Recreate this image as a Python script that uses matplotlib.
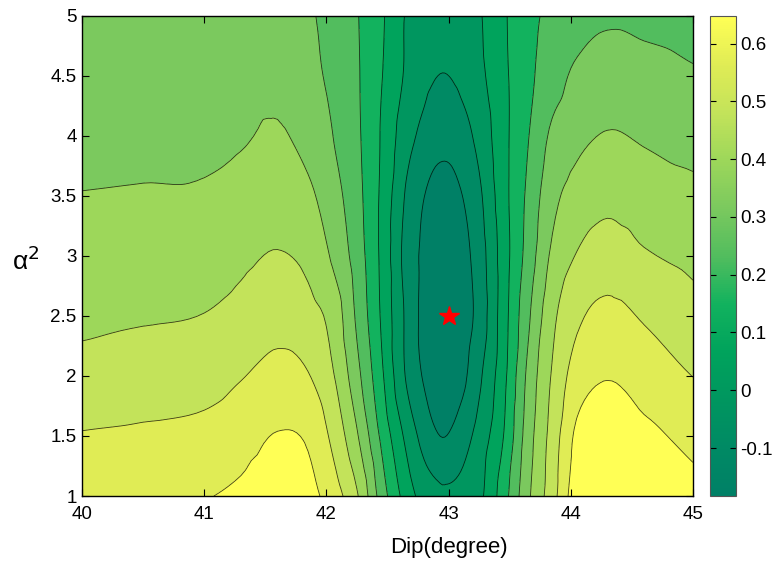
import numpy as np
import matplotlib
matplotlib.use("Agg")
from matplotlib import pyplot as plt
import matplotlib.tri as mtri
from matplotlib.colors import LinearSegmentedColormap, Normalize
from matplotlib.cm import ScalarMappable
from matplotlib.ticker import FormatStrFormatter

plt.rcParams['font.family'] = ['Liberation Sans', 'DejaVu Sans']

# grid
dip = [40, 40.5, 41, 41.3, 41.6, 41.85, 42.05, 42.25, 42.45, 42.65, 42.8,
       42.95, 43.1, 43.25, 43.45, 43.65, 43.85, 44.05, 44.3, 44.6, 45]
alpha2 = [1, 1.5, 2, 2.5, 3, 3.5, 4, 4.5, 5]

misfit = [
    [0.545, 0.556, 0.571, 0.590, 0.620, 0.598, 0.538, 0.433, 0.241, 0.095, 0.020,
     -0.010, -0.003, 0.031, 0.167, 0.335, 0.470, 0.620, 0.650, 0.635, 0.601],
    [0.504, 0.511, 0.523, 0.545, 0.579, 0.564, 0.483, 0.358, 0.185, 0.035, -0.053,
     -0.102, -0.063, 0.004, 0.125, 0.313, 0.455, 0.590, 0.620, 0.594, 0.553],
    [0.455, 0.463, 0.470, 0.496, 0.523, 0.504, 0.433, 0.298, 0.140, -0.029, -0.108,
     -0.149, -0.123, -0.040, 0.103, 0.292, 0.433, 0.534, 0.571, 0.538, 0.499],
    [0.406, 0.418, 0.427, 0.448, 0.474, 0.451, 0.399, 0.262, 0.117, -0.036, -0.123,
     -0.171, -0.141, -0.073, 0.092, 0.260, 0.406, 0.485, 0.519, 0.493, 0.451],
    [0.380, 0.384, 0.388, 0.410, 0.429, 0.406, 0.340, 0.240, 0.110, -0.050, -0.116,
     -0.156, -0.130, -0.063, 0.088, 0.229, 0.365, 0.429, 0.463, 0.433, 0.406],
    [0.352, 0.355, 0.358, 0.376, 0.395, 0.365, 0.306, 0.224, 0.112, -0.032, -0.099,
     -0.123, -0.104, -0.040, 0.098, 0.215, 0.328, 0.376, 0.403, 0.380, 0.365],
    [0.331, 0.334, 0.335, 0.343, 0.358, 0.325, 0.276, 0.213, 0.119, 0.007, -0.046,
     -0.081, -0.055, -0.003, 0.103, 0.196, 0.290, 0.331, 0.354, 0.343, 0.328],
    [0.313, 0.316, 0.320, 0.324, 0.331, 0.298, 0.258, 0.208, 0.129, 0.041, -0.006,
     -0.027, -0.010, 0.031, 0.109, 0.182, 0.241, 0.290, 0.309, 0.301, 0.283],
    [0.298, 0.301, 0.305, 0.305, 0.309, 0.286, 0.246, 0.204, 0.136, 0.046, 0.020,
     0.005, 0.016, 0.043, 0.115, 0.176, 0.219, 0.241, 0.264, 0.256, 0.245],
]

best_dip = 43
best_alpha2 = 2.5

levels = [-0.185, -0.1, -0.025, 0.05, 0.125, 0.2, 0.275, 0.35, 0.425, 0.5, 0.575, 0.66]
band_colors = ['#008066', '#008A64', '#00965F', '#00A35C', '#12B25E', '#52BD5E',
               '#7BC95E', '#9DD75A', '#C3E35A', '#E0EC55', '#FFFF55']
cmin, cmax = -0.183, 0.648

X, Y = np.meshgrid(dip, alpha2)
Z = np.array(misfit)

# smooth the read grid with matplotlib's cubic refiner (y squeezed so cells are near square)
ys = 0.4
triang = mtri.Triangulation(X.ravel(), Y.ravel() * ys)
interp = mtri.CubicTriInterpolator(triang, Z.ravel(), kind='geom')
tri_s, z_fine = mtri.UniformTriRefiner(triang).refine_field(Z.ravel(), triinterpolator=interp, subdiv=3)
tri_fine = mtri.Triangulation(tri_s.x, tri_s.y / ys, tri_s.triangles)

fig = plt.figure(figsize=(7.75, 5.63), dpi=100)
ax = fig.add_axes([0.106, 0.119, 0.788, 0.853])
ax.tricontourf(tri_fine, z_fine, levels=levels, colors=band_colors)
ax.tricontour(tri_fine, z_fine, levels=levels[1:-1], colors='k',
              linewidths=0.6, alpha=0.75, linestyles='solid')
ax.plot(best_dip, best_alpha2, marker='*', color='red', markersize=15,
        markeredgecolor='red', linestyle='none')

ax.set_xlim(40, 45)
ax.set_ylim(1, 5)
ax.set_xticks([40, 41, 42, 43, 44, 45])
ax.set_yticks([1, 1.5, 2, 2.5, 3, 3.5, 4, 4.5, 5])
ax.xaxis.set_major_formatter(FormatStrFormatter('%g'))
ax.yaxis.set_major_formatter(FormatStrFormatter('%g'))
ax.tick_params(direction='in', top=True, right=True, length=5, width=0.8,
               labelsize=13.5, pad=4)
ax.tick_params(axis='x', pad=7)
for s in ax.spines.values():
    s.set_linewidth(1.0)
ax.set_xlabel('Dip(degree)', fontsize=16)
ax.xaxis.set_label_coords(0.6, -0.085)
ax.set_ylabel('α$^{2}$', fontsize=19, rotation=0)
ax.yaxis.set_label_coords(-0.092, 0.46)

# colorbar
pos = np.linspace(0, 1, len(band_colors))
cbar_cmap = LinearSegmentedColormap.from_list('cb', list(zip(pos, band_colors)))
cax = fig.add_axes([0.916, 0.119, 0.034, 0.853])
sm = ScalarMappable(norm=Normalize(cmin, cmax), cmap=cbar_cmap)
cb = fig.colorbar(sm, cax=cax, ticks=[-0.1, 0, 0.1, 0.2, 0.3, 0.4, 0.5, 0.6])
cb.ax.yaxis.set_major_formatter(FormatStrFormatter('%g'))
cb.ax.tick_params(direction='in', length=4, width=0.8, labelsize=13.5,
                  left=True, right=True, pad=3)
cb.outline.set_linewidth(0.8)
cb.outline.set_edgecolor('#555555')

fig.savefig('out.png', dpi=100)
